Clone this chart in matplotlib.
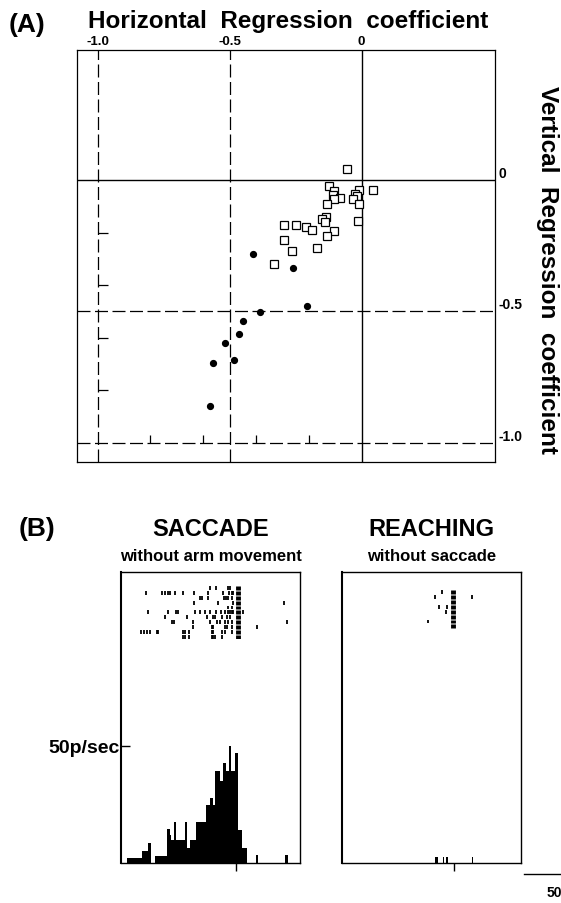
import matplotlib
matplotlib.use('Agg')
import matplotlib.pyplot as plt

plt.rcParams['font.family'] = ['Liberation Sans', 'DejaVu Sans']
plt.rcParams['axes.unicode_minus'] = False

# (A) regression coefficients (horizontal, vertical)
sq_x = [-0.057, -0.124, -0.104, -0.108, -0.082, -0.104, -0.009, -0.025, -0.019,
        -0.032, -0.009, 0.042, -0.130, -0.013, -0.137, -0.150, -0.140, -0.294,
        -0.249, -0.212, -0.189, -0.104, -0.130, -0.294, -0.263, -0.171, -0.332]
sq_y = [0.043, -0.024, -0.042, -0.056, -0.067, -0.071, -0.039, -0.052, -0.062,
        -0.074, -0.090, -0.039, -0.092, -0.155, -0.140, -0.150, -0.161, -0.171,
        -0.171, -0.180, -0.189, -0.193, -0.212, -0.230, -0.272, -0.258, -0.321]
dot_x = [-0.412, -0.261, -0.207, -0.385, -0.451, -0.464, -0.519, -0.484, -0.564, -0.573]
dot_y = [-0.283, -0.336, -0.479, -0.503, -0.537, -0.585, -0.620, -0.685, -0.697, -0.861]

x_ticks = [-1.0, -0.5, 0]
x_ticklabels = ['-1.0', '-0.5', '0']
y_ticks = [0, -0.5, -1.0]
y_ticklabels = ['0', '-0.5', '-1.0']
minor_ticks = [-0.8, -0.6, -0.4, -0.2]

# (B) spike trains, time in ms relative to movement onset
sacc_raster = [
    [-135, -103, -43, -33],
    [-454, -373, -360, -341, -333, -308, -268, -213, -145, -68, -35, -24, -15],
    [-183, -173, -145, -63, -50, -41, -24],
    [-213, -91, -18, 238],
    [-41, -24],
    [-443, -341, -301, -293, -210, -183, -158, -133, -103, -78, -60, -41, -33, -24, -16, 34],
    [-358, -249, -149, -116, -108, -75, -49, -33],
    [-324, -313, -218, -133, -99, -83, -58, -41, -24, 254],
    [-219, -124, -116, -58, -49, -24, 101],
    [-478, -463, -448, -433, -399, -391, -266, -258, -238, -124, -116, -73, -58, -24],
    [-266, -258, -240, -124, -116, -108, -74],
]
sacc_onset = [[7], [7], [7], [7], [7], [7], [7], [7], [7], [7], [7]]

sacc_edges = [-550, -475, -443, -426, -409, -346, -334, -326, -313, -301, -259,
              -248, -234, -201, -151, -134, -118, -106, -84, -68, -51, -39, -26,
              -9, 8, 28, 54, 99, 108, 241, 258]
sacc_rate = [2.1, 5.3, 8.4, 0, 3.0, 14.4, 12.1, 9.7, 17.6, 9.7, 17.6, 6.4, 9.7,
             17.6, 24.6, 27.9, 24.6, 39.3, 35.0, 42.4, 39.0, 50.0, 39.3, 46.7,
             13.9, 6.4, 0, 3.3, 0, 3.3]

reach_raster = [
    [-63],
    [-97, 89],
    [],
    [-76, -38],
    [-42],
    [],
    [-129],
    [],
]
reach_onset = [[-4], [-4], [-4], [-4], [-4], [-4], [-4], [-4]]

reach_edges = [-97, -80, -58, -50, -42, -33, 87, 93]
reach_rate = [2.4, 0, 2.4, 0, 2.4, 0, 2.4]

fig = plt.figure(figsize=(5.61, 9.04), dpi=100)

# ---------------- panel A ----------------
ax = fig.add_axes([0.1364, 0.4878, 0.746, 0.4563])
ax.set_xlim(-1.080, 0.505)
ax.set_ylim(-1.074, 0.497)
for s in ax.spines.values():
    s.set_linewidth(0.9)

dash = (0, (10.4, 3.6))
ax.axvline(0, color='black', lw=1.0)
ax.axhline(0, color='black', lw=1.0)
ax.axvline(-1.0, color='black', lw=0.9, ls=dash)
ax.axvline(-0.5, color='black', lw=0.9, ls=dash)
ax.axhline(-0.5, color='black', lw=0.9, ls=dash)
ax.axhline(-1.0, color='black', lw=0.9, ls=dash)

# small inner ticks on the -1.0 lines
ax.hlines(minor_ticks, -1.0, -1.0 + 0.038, color='black', lw=0.9)
ax.vlines(minor_ticks, -1.0, -1.0 + 0.030, color='black', lw=0.9)

ax.plot(sq_x, sq_y, 's', mfc='white', mec='black', mew=0.9, ms=5.1)
ax.plot(dot_x, dot_y, 'o', color='black', ms=4.2)

ax.xaxis.tick_top()
ax.set_xticks(x_ticks)
ax.set_xticklabels(x_ticklabels, fontsize=9.5, fontweight='bold')
ax.yaxis.tick_right()
ax.set_yticks(y_ticks)
ax.set_yticklabels(y_ticklabels, fontsize=10, fontweight='bold')
ax.tick_params(axis='x', length=0, pad=1.5)
ax.tick_params(axis='y', length=0, pad=2.5)
for lab in ax.get_yticklabels():
    lab.set_verticalalignment('bottom')

fig.text(0.049, 0.9718, '(A)', fontsize=19, fontweight='bold', ha='center', va='center')
fig.text(0.5143, 0.9765, 'Horizontal  Regression  coefficient', fontsize=17.5,
         fontweight='bold', ha='center', va='center')
fig.text(0.9768, 0.7013, 'Vertical  Regression  coefficient', fontsize=17.5,
         fontweight='bold', ha='center', va='center', rotation=270)

# ---------------- panel B ----------------
fig.text(0.0668, 0.4148, '(B)', fontsize=19, fontweight='bold', ha='center', va='center')


def spike_panel(rect, xlim, raster, onset, edges, rate, raster_box, title, subtitle):
    axh = fig.add_axes(rect)
    axh.stairs(rate, edges, fill=True, color='black', lw=0)
    axh.set_xlim(*xlim)
    axh.set_ylim(0, 124.0)
    for s in axh.spines.values():
        s.set_linewidth(1.0)
    axh.spines['left'].set_linewidth(1.5)
    axh.set_xticks([0])
    axh.set_xticklabels([])
    axh.tick_params(axis='x', direction='out', length=6, width=1.0)

    axr = axh.inset_axes(raster_box, sharex=axh)
    axr.eventplot(raster, colors='black', lineoffsets=range(1, len(raster) + 1),
                  linelengths=0.8, linewidths=1.3)
    axr.eventplot(onset, colors='black', lineoffsets=range(1, len(onset) + 1),
                  linelengths=0.8, linewidths=3.5)
    axr.set_ylim(len(raster) + 0.5, 0.5)
    axr.axis('off')

    axh.text(0.5, 1.148, title, transform=axh.transAxes, fontsize=17,
             fontweight='bold', ha='center', va='center')
    axh.text(0.5, 1.055, subtitle, transform=axh.transAxes, fontsize=12,
             fontweight='bold', ha='center', va='center')
    return axh


ax_s = spike_panel([0.2157, 0.04425, 0.3191, 0.3219], (-578, 318), sacc_raster,
                   sacc_onset, sacc_edges, sacc_rate, [0, 0.7694, 1, 0.1838],
                   'SACCADE', 'without arm movement')
ax_s.set_yticks([50])
ax_s.set_yticklabels(['50p/sec'], fontsize=14, fontweight='bold')
ax_s.tick_params(axis='y', direction='in', length=6.5, width=1.0, pad=1)

ax_r = spike_panel([0.6096, 0.04425, 0.3191, 0.3222], (-562, 334), reach_raster,
                   reach_onset, reach_edges, reach_rate, [0, 0.8043, 1, 0.1332],
                   'REACHING', 'without saccade')
ax_r.set_yticks([])

# 500 ms scale bar (runs off the right edge, as in the original)
bar_tr = ax_r.get_xaxis_transform()
ax_r.plot([350, 850], [-0.038, -0.038], color='black', lw=1.0,
          transform=bar_tr, clip_on=False)
ax_r.text(463, -0.0997, '500ms', transform=bar_tr, fontsize=10,
          fontweight='bold', ha='left', va='center', clip_on=False)

fig.savefig('out.png', dpi=100)
